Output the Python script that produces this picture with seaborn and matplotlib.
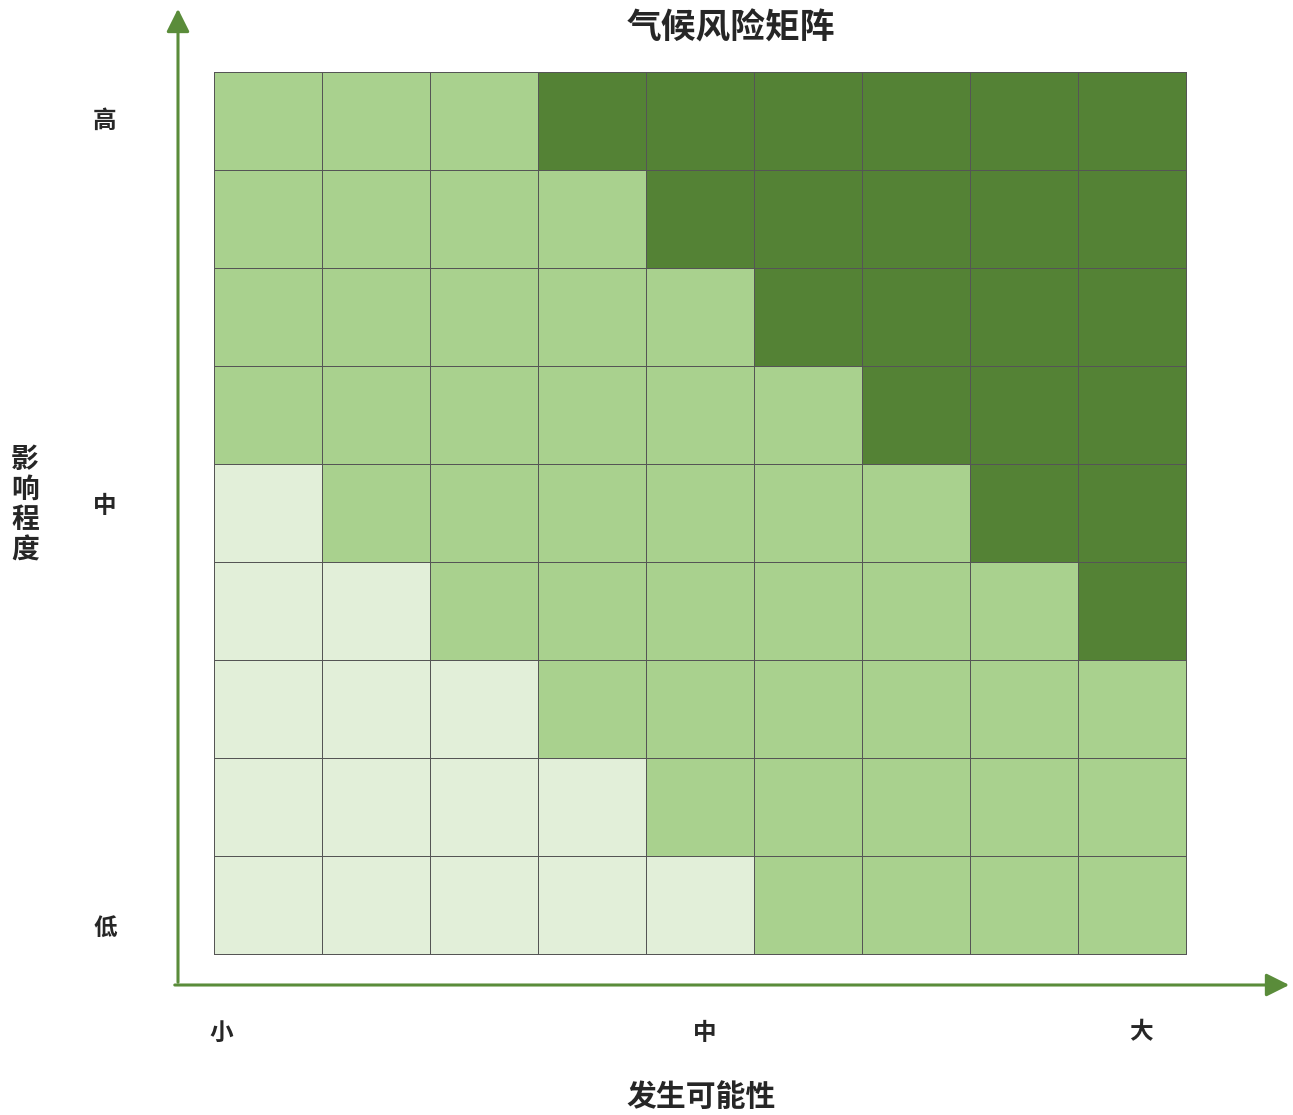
import matplotlib
matplotlib.use("Agg")
import matplotlib.pyplot as plt
import seaborn as sns
import numpy as np
from matplotlib.colors import ListedColormap

# 风险等级：1 = 低, 2 = 中, 3 = 高（行从上到下为影响程度 高 -> 低）
risk_levels = [
    [2, 2, 2, 3, 3, 3, 3, 3, 3],
    [2, 2, 2, 2, 3, 3, 3, 3, 3],
    [2, 2, 2, 2, 2, 3, 3, 3, 3],
    [2, 2, 2, 2, 2, 2, 3, 3, 3],
    [1, 2, 2, 2, 2, 2, 2, 3, 3],
    [1, 1, 2, 2, 2, 2, 2, 2, 3],
    [1, 1, 1, 2, 2, 2, 2, 2, 2],
    [1, 1, 1, 1, 2, 2, 2, 2, 2],
    [1, 1, 1, 1, 1, 2, 2, 2, 2],
]
level_colors = ["#E2EFD9", "#A9D18E", "#548235"]
impact_labels = ["高", "中", "低"]
impact_pos = [0.5, 4.43, 8.73]
likelihood_labels = ["小", "中", "大"]
likelihood_pos = [0.07, 4.54, 8.58]

sns.set_theme(style="white")
plt.rcParams["font.family"] = ["Noto Sans CJK SC", "DejaVu Sans"]

fig = plt.figure(figsize=(12.93, 11.15), dpi=100)
ax = fig.add_axes([214 / 1293, 1 - 954 / 1115, 972 / 1293, 882 / 1115])

sns.heatmap(np.array(risk_levels), ax=ax, cmap=ListedColormap(level_colors),
            vmin=0.5, vmax=3.5, cbar=False, linewidths=0.7, linecolor="#555555",
            square=False)
# 让外框线不被裁掉
ax.collections[0].set_clip_on(False)

ax.set_xticks(likelihood_pos)
ax.set_xticklabels(likelihood_labels, fontsize=17, fontweight="bold", rotation=0)
ax.set_yticks(impact_pos)
ax.set_yticklabels(impact_labels, fontsize=17, fontweight="bold", rotation=0)
ax.tick_params(axis="x", length=0, pad=48)
ax.tick_params(axis="y", length=0, pad=70)
for s in ax.spines.values():
    s.set_visible(False)

# 坐标轴箭头
arrow_color = "#5A8C3A"
fig.add_artist(matplotlib.patches.FancyArrowPatch(
    (178 / 1293, 1 - 985 / 1115), (178 / 1293, 1 - 6 / 1115),
    transform=fig.transFigure, arrowstyle="-|>,head_length=1.0,head_width=0.5",
    mutation_scale=14, color=arrow_color, lw=2.2))
fig.add_artist(matplotlib.patches.FancyArrowPatch(
    (172 / 1293, 1 - 985 / 1115), (1292 / 1293, 1 - 985 / 1115),
    transform=fig.transFigure, arrowstyle="-|>,head_length=1.0,head_width=0.5",
    mutation_scale=14, color=arrow_color, lw=2.2))

fig.text(731 / 1293, 1 - 28 / 1115, "气候风险矩阵", ha="center", va="center",
         fontsize=25, fontweight="bold")
fig.text(701 / 1293, 1 - 1097 / 1115, "发生可能性", ha="center", va="center",
         fontsize=21.5, fontweight="bold")
fig.text(25 / 1293, 1 - 505 / 1115, "影\n响\n程\n度", ha="center", va="center",
         fontsize=20, fontweight="bold", linespacing=1.1)

plt.savefig("out.png", dpi=100)
plt.close()
